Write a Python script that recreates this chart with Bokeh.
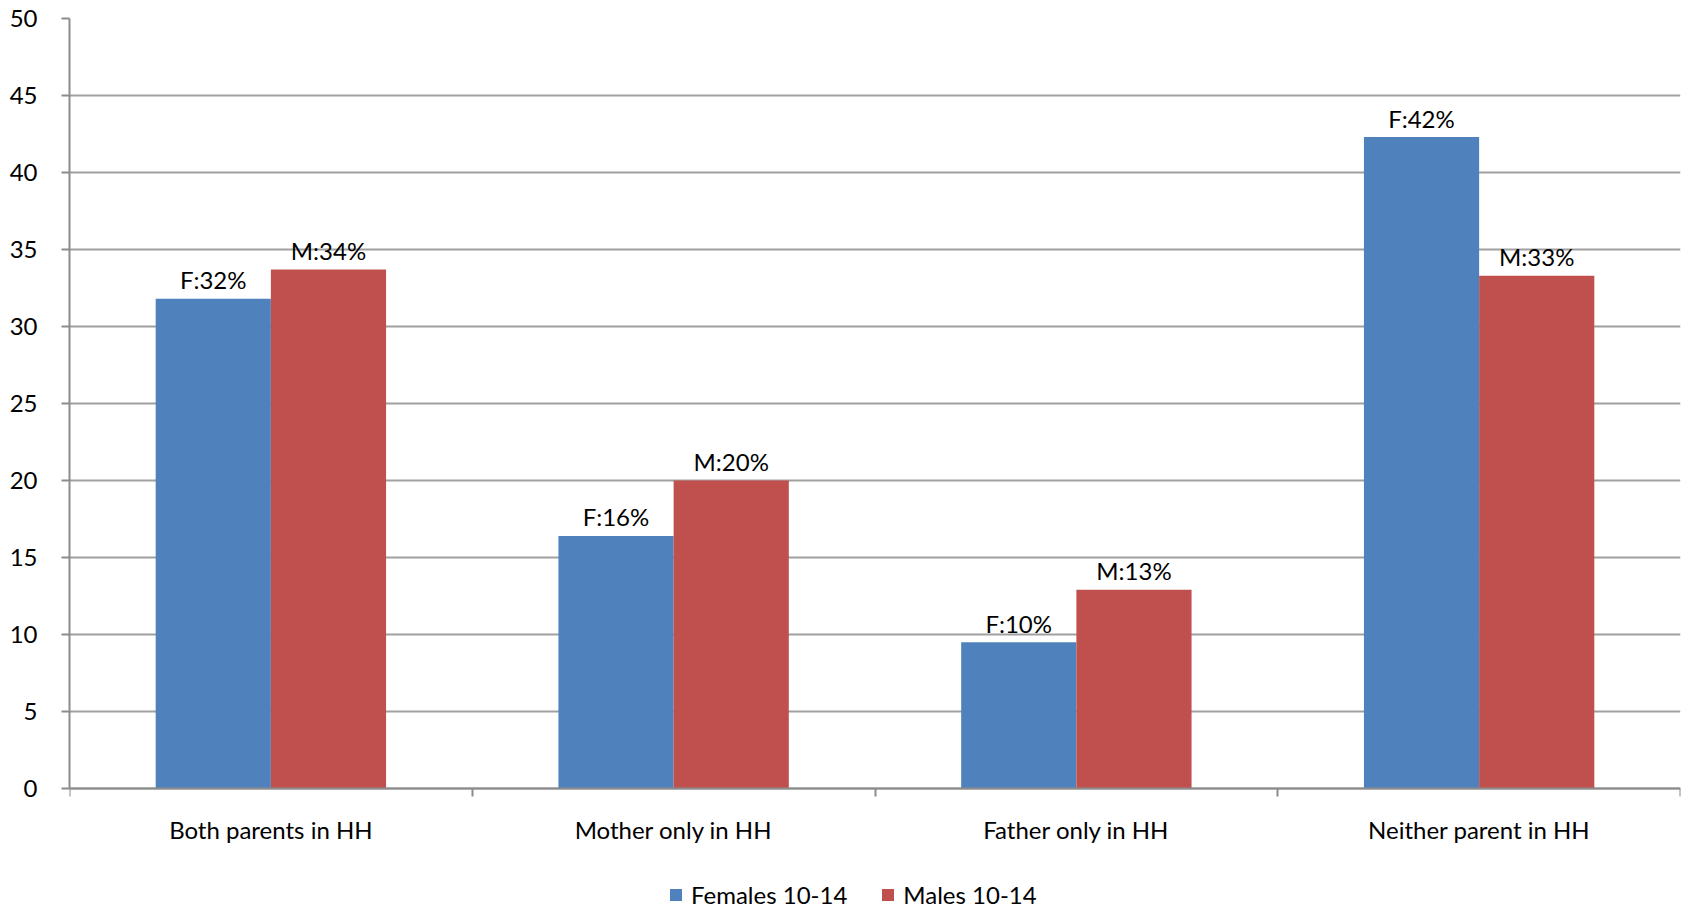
from bokeh.plotting import figure
from bokeh.models import Range1d, FixedTicker, Legend, LegendItem, ColumnDataSource
from bokeh.core.properties import value
from bokeh.embed import file_html
from bokeh.resources import INLINE

categories = ["Both parents in HH", "Mother only in HH", "Father only in HH", "Neither parent in HH"]
females = [31.8, 16.4, 9.5, 42.3]
males = [33.7, 20.0, 12.9, 33.3]
female_labels = ["F:32%", "F:16%", "F:10%", "F:42%"]
male_labels = ["M:34%", "M:20%", "M:13%", "M:33%"]
series_names = ["Females 10-14", "Males 10-14"]
y_ticks = [0, 5, 10, 15, 20, 25, 30, 35, 40, 45, 50]

FONT = "Lato"
FS = "24px"
BLUE = "#4F81BD"
RED = "#C0504D"
GRAY = "#8C8C8C"

# layout (pixels)
PLOT_H = 770          # height of the 0..50 value area
FRAME_H = 891         # frame reaches down to the page bottom (room for labels and legend)
Y_MAX = y_ticks[-1]
Y_MIN = Y_MAX - FRAME_H * Y_MAX / PLOT_H

centers = [i + 0.5 for i in range(len(categories))]
bw = 0.286

p = figure(frame_width=1611, frame_height=FRAME_H, output_backend="svg", toolbar_location=None,
           x_range=Range1d(0, len(categories)), y_range=Range1d(Y_MIN, Y_MAX),
           min_border_left=69, min_border_right=3, min_border_top=18, min_border_bottom=0)
p.outline_line_color = None
p.background_fill_color = "white"
p.border_fill_color = "white"

src_f = ColumnDataSource(dict(x=[c - bw / 2 for c in centers], top=females, lab=female_labels))
src_m = ColumnDataSource(dict(x=[c + bw / 2 for c in centers], top=males, lab=male_labels))

rf = p.vbar(x="x", top="top", bottom=0, width=bw, source=src_f, fill_color=BLUE, line_color=None)
rm = p.vbar(x="x", top="top", bottom=0, width=bw, source=src_m, fill_color=RED, line_color=None)

for src in (src_f, src_m):
    p.text(x="x", y="top", text="lab", source=src, text_align="center", text_baseline="alphabetic",
           y_offset=-19, text_font=value(FONT), text_font_size=FS, text_color="black")

# y axis
p.yaxis.ticker = FixedTicker(ticks=y_ticks)
p.yaxis.bounds = (0, Y_MAX)
p.yaxis.axis_line_color = GRAY
p.yaxis.axis_line_width = 2
p.yaxis.major_tick_line_color = GRAY
p.yaxis.major_tick_line_width = 2
p.yaxis.major_tick_out = 8
p.yaxis.major_tick_in = 0
p.yaxis.minor_tick_line_color = None
p.yaxis.major_label_text_font = FONT
p.yaxis.major_label_text_font_size = FS
p.yaxis.major_label_text_color = "black"
p.yaxis.major_label_standoff = 24

# x axis (drawn at y = 0)
p.xaxis.fixed_location = 0
p.xaxis.ticker = FixedTicker(ticks=centers, minor_ticks=list(range(len(categories) + 1)))
p.xaxis.major_label_overrides = {c: name for c, name in zip(centers, categories)}
p.xaxis.axis_line_color = GRAY
p.xaxis.axis_line_width = 2
p.xaxis.major_tick_line_color = None
p.xaxis.major_tick_out = 8
p.xaxis.major_tick_in = 0
p.xaxis.minor_tick_line_color = GRAY
p.xaxis.minor_tick_line_width = 2
p.xaxis.minor_tick_out = 8
p.xaxis.minor_tick_in = 0
p.xaxis.major_label_text_font = FONT
p.xaxis.major_label_text_font_size = FS
p.xaxis.major_label_text_color = "black"
p.xaxis.major_label_standoff = 18

p.xgrid.grid_line_color = None
p.ygrid.ticker = FixedTicker(ticks=y_ticks)
p.ygrid.grid_line_color = "#A0A0A0"
p.ygrid.grid_line_width = 2

legend = Legend(items=[LegendItem(label=series_names[0], renderers=[rf]),
                       LegendItem(label=series_names[1], renderers=[rm])],
                orientation="horizontal", location=(599, 0))
legend.label_text_font = FONT
legend.label_text_font_size = FS
legend.label_text_color = "black"
legend.glyph_width = 15
legend.glyph_height = 15
legend.label_standoff = 8
legend.spacing = 33
legend.padding = 0
legend.margin = 0
legend.border_line_color = None
legend.background_fill_alpha = 0
p.add_layout(legend)

open("out.html", "w").write(file_html(p, INLINE))
